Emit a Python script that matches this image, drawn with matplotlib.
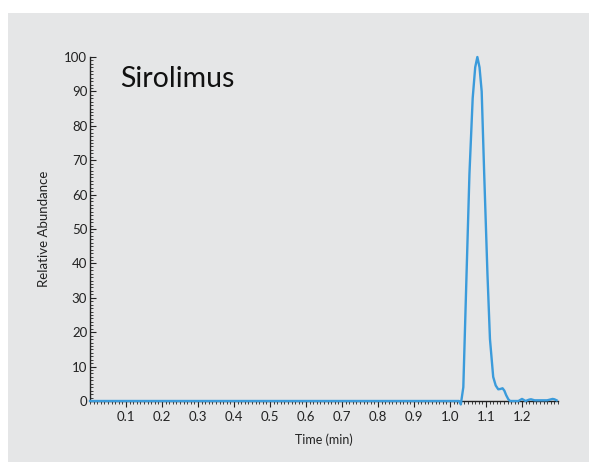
import numpy as np
import matplotlib.pyplot as plt
import matplotlib.patches as patches
from matplotlib.ticker import MultipleLocator, FixedLocator

plt.rcParams['font.family'] = ['Lato', 'DejaVu Sans']

# chromatogram trace
time_min = [0.0, 0.5, 1.0, 1.025, 1.030, 1.037, 1.046, 1.054, 1.063, 1.070,
            1.076, 1.082, 1.088, 1.095, 1.104, 1.111, 1.120, 1.127, 1.134,
            1.140, 1.146, 1.151, 1.156, 1.162, 1.167, 1.19, 1.20, 1.21,
            1.22, 1.225, 1.235, 1.27, 1.285, 1.29, 1.296]
abundance = [0.0, 0.0, 0.0, 0.0, -1.0, 4.0, 37.0, 66.0, 88.0, 97.0,
             100.0, 97.0, 90.0, 66.0, 37.0, 18.0, 7.0, 4.5, 3.4,
             3.5, 3.7, 3.0, 1.7, 0.5, 0.0, 0.0, 0.6, 0.0,
             0.4, 0.5, 0.2, 0.2, 0.6, 0.5, 0.2]

x_ticks = [0.1, 0.2, 0.3, 0.4, 0.5, 0.6, 0.7, 0.8, 0.9, 1.0, 1.1, 1.2]
y_ticks = [0, 10, 20, 30, 40, 50, 60, 70, 80, 90, 100]

blue = '#3b9bdb'
bg = '#e5e6e7'

fig = plt.figure(figsize=(5.89, 4.62), dpi=100)
fig.patch.set_facecolor('white')
fig.patches.append(patches.Rectangle((8 / 589, 0), 1, (462 - 13) / 462,
                                     transform=fig.transFigure, facecolor=bg,
                                     edgecolor='none', zorder=-5))

ax = fig.add_axes([90 / 589, 61 / 462, 468 / 589, 344 / 462])
ax.set_zorder(2)
ax.patch.set_alpha(0)
ax.plot(time_min, abundance, color=blue, lw=1.7, clip_on=False, zorder=3)

ax.set_xlim(0, 1.3)
ax.set_ylim(0, 100)
for side in ['top', 'right']:
    ax.spines[side].set_visible(False)
for side in ['left', 'bottom']:
    ax.spines[side].set_color('#222222')
    ax.spines[side].set_linewidth(1.0)

ax.xaxis.set_major_locator(FixedLocator(x_ticks))
ax.xaxis.set_minor_locator(MultipleLocator(0.01))
ax.yaxis.set_major_locator(FixedLocator(y_ticks))
ax.yaxis.set_minor_locator(MultipleLocator(1))
ax.set_xticklabels([f'{t:.1f}' for t in x_ticks])
ax.set_yticklabels([str(t) for t in y_ticks])

ax.tick_params(axis='x', which='major', direction='out', length=4, width=0.8,
               labelsize=9.5, pad=3, color='#222222', labelcolor='#222222')
ax.tick_params(axis='x', which='minor', direction='out', length=2, width=0.6,
               color='#222222')
ax.tick_params(axis='y', which='major', direction='in', length=4, width=0.8,
               labelsize=9.5, pad=2, color='#222222', labelcolor='#222222')
ax.tick_params(axis='y', which='minor', direction='in', length=2, width=0.6,
               color='#222222')

ax.set_xlabel('Time (min)', fontsize=9, color='#222222', labelpad=8)
ax.set_ylabel('Relative Abundance', fontsize=9.5, color='#222222', labelpad=10)

ax.text(0.064, 0.975, 'Sirolimus', transform=ax.transAxes, fontsize=20.5,
        color='#111111', va='top', ha='left')

fig.savefig('out.png', dpi=100)
